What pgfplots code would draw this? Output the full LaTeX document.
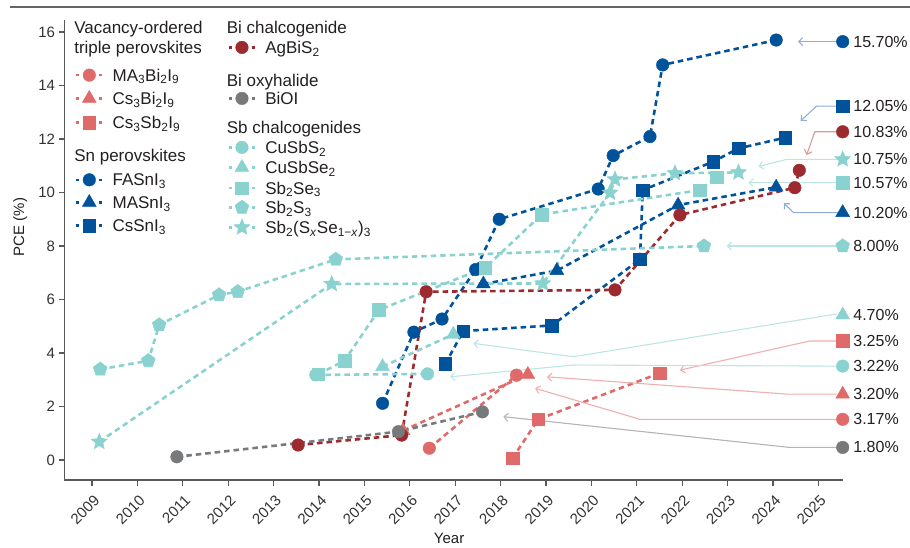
\documentclass[border=0pt]{standalone}
\usepackage{fontspec}
\setmainfont{Liberation Sans}
\usepackage{pgfplots}
\pgfplotsset{compat=1.18}
\usetikzlibrary{arrows.meta}

\definecolor{cblue}{HTML}{00539B}
\definecolor{cred}{HTML}{9C2A2E}
\definecolor{csal}{HTML}{E06A6A}
\definecolor{cgray}{HTML}{77797B}
\definecolor{cteal}{HTML}{8AD2D0}
\definecolor{lblue}{HTML}{8FAED3}
\definecolor{lred}{HTML}{D59B9B}
\definecolor{lsal}{HTML}{F0AEAE}
\definecolor{lteal}{HTML}{BCE5E3}
\definecolor{lgray}{HTML}{B4B4B4}
\definecolor{txt}{HTML}{231F20}

\pgfdeclareplotmark{fstar}{%
 \pgfpathmoveto{\pgfpointpolar{90}{\pgfplotmarksize}}%
 \pgfpathlineto{\pgfpointpolar{126}{0.45\pgfplotmarksize}}%
 \pgfpathlineto{\pgfpointpolar{162}{\pgfplotmarksize}}%
 \pgfpathlineto{\pgfpointpolar{198}{0.45\pgfplotmarksize}}%
 \pgfpathlineto{\pgfpointpolar{234}{\pgfplotmarksize}}%
 \pgfpathlineto{\pgfpointpolar{270}{0.45\pgfplotmarksize}}%
 \pgfpathlineto{\pgfpointpolar{306}{\pgfplotmarksize}}%
 \pgfpathlineto{\pgfpointpolar{342}{0.45\pgfplotmarksize}}%
 \pgfpathlineto{\pgfpointpolar{18}{\pgfplotmarksize}}%
 \pgfpathlineto{\pgfpointpolar{54}{0.45\pgfplotmarksize}}%
 \pgfpathclose
 \pgfusepathqfillstroke
}

\tikzset{
  ser/.style={line width=2.6pt, dash pattern=on 5.5pt off 4pt, mark options={solid, line width=0.4pt}},
  mcirc/.style={mark=*, mark size=6.3pt},
  msq/.style={mark=square*, mark size=6.3pt},
  mtri/.style={mark=triangle*, mark size=8pt},
  mpent/.style={mark=pentagon*, mark size=7.3pt},
  mstar/.style={mark=fstar, mark size=8.5pt},
  conn/.style={line width=1.1pt, solid, -{Straight Barb[length=4pt,width=8pt]}},
  rlab/.style={anchor=west, xshift=10.5pt, inner sep=0pt, font=\fontsize{16}{19}\selectfont, text=txt},
}

\begin{document}
\begin{tikzpicture}
\begin{axis}[
  scale only axis, width=778.5pt, height=460pt,
  xmin=2008.394, xmax=2025.542, ymin=-0.748, ymax=16.449,
  axis x line*=bottom, axis y line*=left,
  axis line style={draw=black!65, line width=1.3pt},
  xtick={2009,2010,...,2025}, ytick={0,2,...,16},
  tick align=outside, major tick length=6pt,
  tick style={draw=black!65, line width=1.3pt},
  xticklabel style={yshift=-3pt, xshift=1pt, rotate=45, anchor=north east, font=\fontsize{15}{18}\selectfont, text=black!80},
  yticklabel style={font=\fontsize{15}{18}\selectfont, text=black!80},
  /pgf/number format/assume math mode=true,
  /pgf/number format/1000 sep={},
  xlabel={Year}, ylabel={PCE (\%)},
  label style={font=\fontsize{15}{18}\selectfont, text=txt},
  xlabel style={at={(axis description cs:0.494,-0.126)}, anchor=center},
  ylabel style={at={(axis description cs:-0.057,0.55)}, anchor=center},
  clip=false,
  legend cell align=left,
  legend style={at={(rel axis cs:0.01349,0.998)}, anchor=north west, draw=none, fill=none,
     inner sep=0pt, outer sep=0pt, row sep=0pt, column sep=9pt,
     font=\fontsize{17}{20}\selectfont, text=txt,
     cells={anchor=base west}, nodes={inner sep=0pt, text depth=4.5pt}},
  legend image code/.code={\draw[#1, dash pattern=on 3pt off 20pt, mark repeat=2, mark phase=2, yshift=6pt] plot coordinates {(0pt,0pt) (13pt,0pt) (26pt,0pt)};},
]
% ---------- Vacancy-ordered ----------
\addplot[forget plot, csal, ser, mcirc] coordinates {(2016.43,0.44) (2018.35,3.17)};
\addplot[forget plot, csal, ser, mtri] coordinates {(2015.85,1.10) (2018.60,3.20)};
\addplot[forget plot, csal, ser, msq] coordinates {(2018.26,0.06) (2018.83,1.52) (2021.51,3.25)};
% ---------- Sn perovskites ----------
\addplot[forget plot, cblue, ser, mcirc] coordinates {
 (2015.40,2.12) (2016.09,4.78) (2016.71,5.27) (2017.45,7.12) (2017.97,9.00)
 (2020.15,10.13) (2020.48,11.38) (2021.29,12.09) (2021.57,14.77) (2024.07,15.70)};
\addplot[forget plot, cblue, ser, mtri] coordinates {
 (2017.62,6.58) (2019.24,7.08) (2021.91,9.53) (2024.07,10.20)};
\addplot[forget plot, cblue, ser, msq] coordinates {
 (2016.78,3.59) (2017.18,4.82) (2019.13,5.03) (2021.07,7.50) (2021.13,10.09)
 (2022.68,11.15) (2023.24,11.65) (2024.27,12.05)};
% ---------- AgBiS2 ----------
\addplot[forget plot, cred, ser, mcirc] coordinates {
 (2013.54,0.56) (2015.82,0.93) (2016.36,6.29) (2020.52,6.36) (2021.95,9.16)
 (2024.48,10.18) (2024.58,10.83)};
% ---------- BiOI ----------
\addplot[forget plot, cgray, ser, mcirc] coordinates {
 (2010.87,0.12) (2015.75,1.06) (2017.60,1.80)};
% ---------- Sb chalcogenides ----------
\addplot[forget plot, cteal, ser, mcirc] coordinates {(2013.93,3.18) (2016.39,3.22)};
\addplot[forget plot, cteal, ser, mtri] coordinates {(2015.40,3.49) (2016.96,4.70)};
\addplot[forget plot, cteal, ser, msq] coordinates {
 (2013.98,3.20) (2014.56,3.71) (2015.32,5.61) (2017.66,7.19) (2018.91,9.18)
 (2022.39,10.09) (2022.76,10.57)};
\addplot[forget plot, cteal, ser, mpent] coordinates {
 (2009.18,3.39) (2010.24,3.71) (2010.48,5.05) (2011.80,6.17) (2012.21,6.29)
 (2014.37,7.50) (2022.48,8.00)};
\addplot[forget plot, cteal, ser, mstar] coordinates {
 (2009.16,0.68) (2014.28,6.58) (2018.93,6.60) (2020.41,9.99) (2020.52,10.49)
 (2021.84,10.72) (2023.24,10.75)};
% ---------- connectors ----------
\addplot[forget plot, lblue, conn] coordinates {(2025.43,15.64) (2024.55,15.64)};
\addplot[forget plot, lblue, conn] coordinates {(2025.43,13.23) (2024.96,13.23) (2024.61,12.68)};
\addplot[forget plot, lred, conn] coordinates {(2025.43,12.27) (2024.92,12.27) (2024.74,11.40)};
\addplot[forget plot, lteal, conn] coordinates {(2025.43,11.24) (2024.30,11.24) (2023.68,10.97)};
\addplot[forget plot, lteal, conn] coordinates {(2025.43,10.37) (2023.46,10.37)};
\addplot[forget plot, lblue, conn] coordinates {(2025.43,9.25) (2024.45,9.25) (2024.24,9.60)};
\addplot[forget plot, lteal, conn] coordinates {(2025.43,8.00) (2022.98,8.00)};
\addplot[forget plot, lteal, conn] coordinates {(2025.40,5.46) (2019.60,3.86) (2017.40,4.36)};
\addplot[forget plot, lsal, conn] coordinates {(2025.40,4.45) (2024.81,4.45) (2021.95,3.36)};
\addplot[forget plot, lteal, conn] coordinates {(2025.40,3.51) (2019.60,3.55) (2016.89,3.11)};
\addplot[forget plot, lsal, conn] coordinates {(2025.40,2.46) (2024.34,2.46) (2019.02,3.11)};
\addplot[forget plot, lsal, conn] coordinates {(2025.40,1.52) (2021.07,1.52) (2018.76,2.68)};
\addplot[forget plot, lgray, conn] coordinates {(2025.40,0.47) (2024.37,0.47) (2018.06,1.62)};
% ---------- right-hand markers ----------
\addplot[forget plot, only marks, cblue, mcirc] coordinates {(2025.535,15.64)};
\addplot[forget plot, only marks, cblue, msq] coordinates {(2025.535,13.23)};
\addplot[forget plot, only marks, cred, mcirc] coordinates {(2025.535,12.27)};
\addplot[forget plot, only marks, cteal, mstar] coordinates {(2025.535,11.24)};
\addplot[forget plot, only marks, cteal, msq] coordinates {(2025.535,10.37)};
\addplot[forget plot, only marks, cblue, mtri] coordinates {(2025.535,9.25)};
\addplot[forget plot, only marks, cteal, mpent] coordinates {(2025.535,8.00)};
\addplot[forget plot, only marks, cteal, mtri] coordinates {(2025.535,5.42)};
\addplot[forget plot, only marks, csal, msq] coordinates {(2025.535,4.45)};
\addplot[forget plot, only marks, cteal, mcirc] coordinates {(2025.535,3.51)};
\addplot[forget plot, only marks, csal, mtri] coordinates {(2025.535,2.46)};
\addplot[forget plot, only marks, csal, mcirc] coordinates {(2025.535,1.52)};
\addplot[forget plot, only marks, cgray, mcirc] coordinates {(2025.535,0.47)};
\node[rlab] at (axis cs:2025.535,15.64) {15.70\%};
\node[rlab] at (axis cs:2025.535,13.23) {12.05\%};
\node[rlab] at (axis cs:2025.535,12.27) {10.83\%};
\node[rlab] at (axis cs:2025.535,11.24) {10.75\%};
\node[rlab] at (axis cs:2025.535,10.37) {10.57\%};
\node[rlab] at (axis cs:2025.535,9.25) {10.20\%};
\node[rlab] at (axis cs:2025.535,8.00) {8.00\%};
\node[rlab] at (axis cs:2025.535,5.42) {4.70\%};
\node[rlab] at (axis cs:2025.535,4.45) {3.25\%};
\node[rlab] at (axis cs:2025.535,3.51) {3.22\%};
\node[rlab] at (axis cs:2025.535,2.46) {3.20\%};
\node[rlab] at (axis cs:2025.535,1.52) {3.17\%};
\node[rlab] at (axis cs:2025.535,0.47) {1.80\%};
% ---------- legend column 1 ----------
\addlegendimage{empty legend}\addlegendentry[text height=12.5pt]{\hspace*{-38.3pt}Vacancy-ordered}
\addlegendimage{empty legend}\addlegendentry[text height=15.5pt]{\hspace*{-38.3pt}triple perovskites}
\addlegendimage{csal, ser, mcirc}\addlegendentry[text height=23.2pt]{MA\textsubscript{3}Bi\textsubscript{2}I\textsubscript{9}}
\addlegendimage{csal, ser, mtri}\addlegendentry[text height=18.8pt]{Cs\textsubscript{3}Bi\textsubscript{2}I\textsubscript{9}}
\addlegendimage{csal, ser, msq}\addlegendentry[text height=19.5pt]{Cs\textsubscript{3}Sb\textsubscript{2}I\textsubscript{9}}
\addlegendimage{empty legend}\addlegendentry[text height=28.2pt]{\hspace*{-38.3pt}Sn perovskites}
\addlegendimage{cblue, ser, mcirc}\addlegendentry[text height=20.2pt]{FASnI\textsubscript{3}}
\addlegendimage{cblue, ser, mtri}\addlegendentry[text height=18.1pt]{MASnI\textsubscript{3}}
\addlegendimage{cblue, ser, msq}\addlegendentry[text height=18.7pt]{CsSnI\textsubscript{3}}
\end{axis}
% ---------- legend column 2 (second, hidden axis) ----------
\begin{axis}[
  scale only axis, width=778.5pt, height=460pt, hide axis,
  xmin=0, xmax=1, ymin=0, ymax=1,
  legend cell align=left,
  legend style={at={(rel axis cs:0.2096,0.998)}, anchor=north west, draw=none, fill=none,
     inner sep=0pt, outer sep=0pt, row sep=0pt, column sep=9pt,
     font=\fontsize{17}{20}\selectfont, text=txt,
     cells={anchor=base west}, nodes={inner sep=0pt, text depth=4.5pt}},
  legend image code/.code={\draw[#1, dash pattern=on 3pt off 20pt, mark repeat=2, mark phase=2, yshift=6pt] plot coordinates {(0pt,0pt) (13pt,0pt) (26pt,0pt)};},
]
\addplot[forget plot, draw=none] coordinates {(0,0)};
\addlegendimage{empty legend}\addlegendentry[text height=12.5pt]{\hspace*{-38.4pt}Bi chalcogenide}
\addlegendimage{cred, ser, mcirc}\addlegendentry[text height=15.5pt]{AgBiS\textsubscript{2}}
\addlegendimage{empty legend}\addlegendentry[text height=28.2pt]{\hspace*{-38.4pt}Bi oxyhalide}
\addlegendimage{cgray, ser, mcirc}\addlegendentry[text height=13.8pt]{BiOI}
\addlegendimage{empty legend}\addlegendentry[text height=24.5pt]{\hspace*{-38.4pt}Sb chalcogenides}
\addlegendimage{cteal, ser, mcirc}\addlegendentry[text height=15.5pt]{CuSbS\textsubscript{2}}
\addlegendimage{cteal, ser, mtri}\addlegendentry[text height=15.5pt]{CuSbSe\textsubscript{2}}
\addlegendimage{cteal, ser, msq}\addlegendentry[text height=16.2pt]{Sb\textsubscript{2}Se\textsubscript{3}}
\addlegendimage{cteal, ser, mpent}\addlegendentry[text height=14.8pt]{Sb\textsubscript{2}S\textsubscript{3}}
\addlegendimage{cteal, ser, mstar}\addlegendentry[text height=15.5pt]{Sb\textsubscript{2}(S\textsubscript{\textit{x}}Se\textsubscript{1−\textit{x}})\textsubscript{3}}
\end{axis}
\draw[black!60, line width=1.3pt] (-54.5pt,473pt) -- (845.5pt,473pt);
\pgfresetboundingbox
\path[use as bounding box] (-64.5pt,-67pt) rectangle (845.5pt,480pt);
\end{tikzpicture}
\end{document}
